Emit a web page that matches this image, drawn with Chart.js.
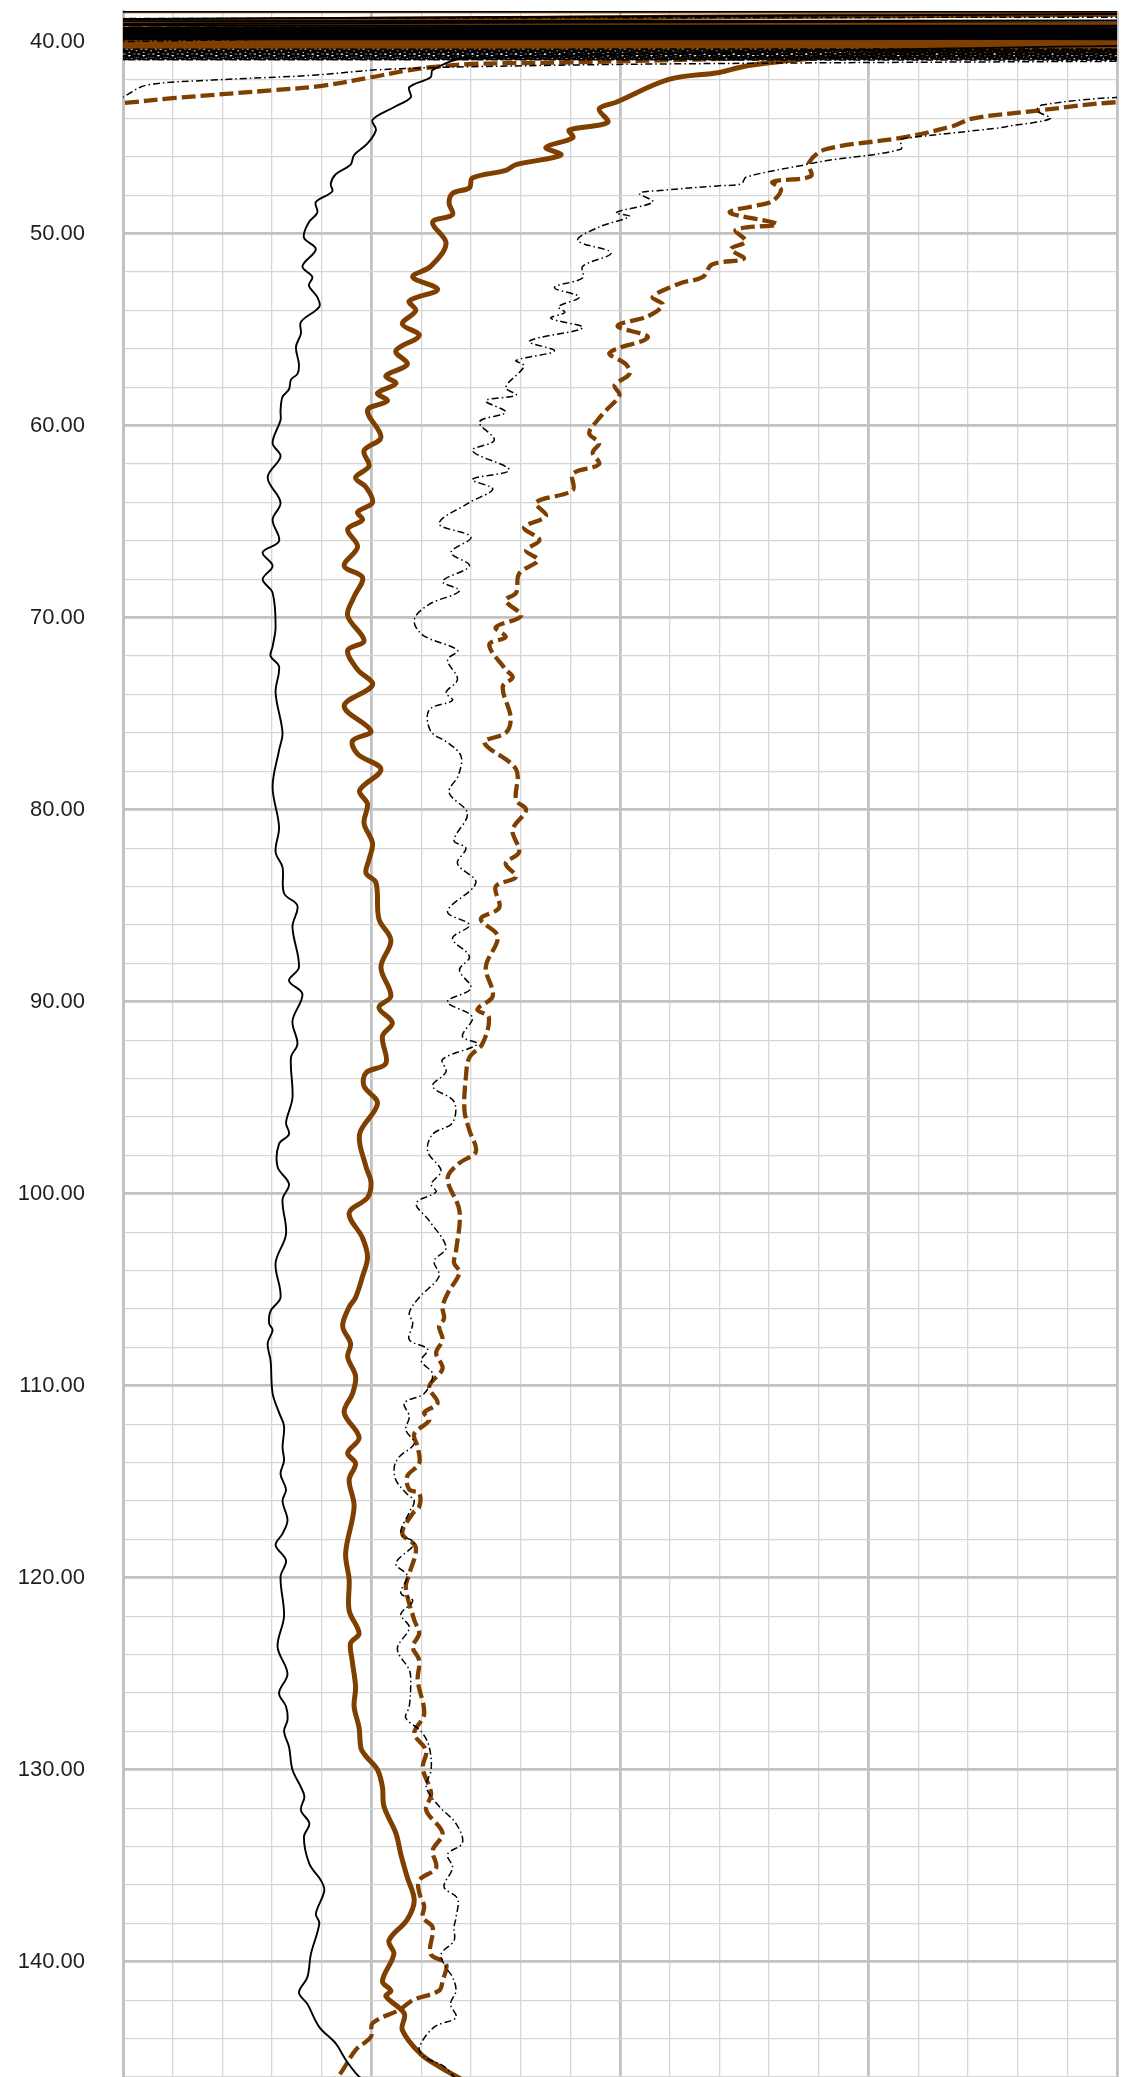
<!DOCTYPE html>
<html><head><meta charset="utf-8">
<script src="https://cdn.jsdelivr.net/npm/chart.js@4.4.1/dist/chart.umd.min.js"></script>
<style>html,body{margin:0;padding:0;background:#fff;overflow:hidden}#wrap{position:relative;width:1134px;height:2077px}</style>
</head><body><div id="wrap"><canvas id="c"></canvas></div>
<script>
// ---- axis definitions ----
const depthMin = 38.4, depthMax = 146.0;
const valueMin = 0, valueMax = 200;
const depthLabels = ['40.00','50.00','60.00','70.00','80.00','90.00','100.00','110.00','120.00','130.00','140.00'];

// ---- series 1: black solid ----
const blackSolidDepth = [
 38.42,38.44,38.93,38.88,39.12,39.18,
 39.28,39.305,39.33,39.355,39.38,39.405,39.43,39.455,39.48,39.505,
 39.53,39.555,39.58,39.605,39.63,39.655,39.68,39.705,39.73,39.755,
 39.78,39.805,39.83,39.855,39.88,39.905,
 40.86,41.47,41.85,42.37,42.9,43.4,44.07,44.6,45.3,45.9,
 46.4,46.9,47.4,47.8,48.35,48.9,49.4,50.2,50.8,51.7,
 52.25,52.7,53.3,53.8,54.6,55.2,55.9,56.8,57.3,57.6,
 58.1,58.5,59.2,59.7,60.9,61.6,62.7,64.0,64.9,66.0,
 66.6,67.3,68.0,68.7,70.5,71.5,72.0,72.55,73.9,76.0,
 76.9,78.8,80.9,82.2,83.0,84.35,85.0,86.1,88.2,88.9,
 89.6,91.0,92.2,92.9,95.0,96.3,96.9,97.4,98.6,99.5,
 100.3,102.1,103.6,105.4,106.1,106.75,107.1,107.8,108.7,110.4,
 111.4,112.1,113.2,113.9,114.6,115.4,116.0,117.0,117.7,118.3,
 119.1,119.95,122.0,123.6,125.0,126.0,126.7,127.4,128.0,128.8,
 130.0,130.9,131.4,132.1,132.8,133.5,134.9,135.75,136.3,137.5,
 138.0,139.6,140.8,141.6,142.2,143.4,144.25,145.1,145.9,146.5
];
const blackSolidValue = [
 -60,260,-60,260,-60,260,
 -60,260,-60,260,-60,260,-60,260,-60,260,
 -60,260,-60,260,-60,260,-60,260,-60,260,
 -60,260,-60,260,-60,260,
 69.0,62.3,61.9,57.6,57.9,54.6,50.2,50.9,49.2,46.5,
 45.8,42.8,41.8,42.1,38.8,39.1,37.4,36.4,38.8,36.1,
 38.1,37.4,39.1,39.5,35.8,35.8,34.8,35.4,35.1,33.8,
 33.4,32.1,31.7,31.7,30.1,31.7,29.1,31.7,30.1,31.4,
 28.1,30.1,28.1,30.1,30.7,30.1,29.7,31.4,30.7,32.1,
 31.4,30.1,31.4,30.7,32.1,32.4,35.1,34.1,35.4,33.4,
 36.1,34.1,35.1,33.8,34.1,32.8,33.4,31.4,31.1,33.4,
 32.1,32.8,30.7,31.7,29.7,29.4,30.1,29.1,29.7,30.1,
 31.4,32.4,32.1,32.4,31.7,32.8,32.1,33.1,32.1,30.7,
 32.8,31.7,32.4,31.1,33.1,31.4,32.8,33.1,32.4,33.4,
 34.1,35.8,36.5,35.8,37.5,36.4,37.5,39.8,40.5,38.8,
 39.5,37.8,37.1,35.4,37.1,39.5,42.8,44.8,47.2,50
];

// ---- series 2: brown solid ----
const brownSolidDepth = [
 38.40,38.42,39.08,39.11,
 39.92,39.95,39.98,40.01,40.04,40.07,40.10,40.13,40.16,40.19,
 40.22,40.25,40.28,40.31,
 40.44,40.8,41.1,41.3,41.6,41.95,43.15,43.5,44.2,44.6,
 45.0,45.5,45.9,46.4,46.7,47.1,47.6,47.9,48.4,49.0,
 49.4,50.5,51.7,52.25,52.9,53.5,54.0,54.7,55.3,56.1,
 56.8,57.4,57.8,58.3,58.7,59.2,60.6,61.3,62.1,62.7,
 63.2,64.0,64.5,64.9,65.4,66.3,67.3,67.9,68.9,69.9,
 71.2,71.7,72.7,73.5,74.6,75.9,76.4,77.1,77.9,79.0,
 79.7,80.7,81.75,82.6,83.3,83.8,85.7,86.8,88.2,89.7,
 90.3,91.1,91.8,93.2,93.7,94.4,95.3,96.9,98.6,99.4,
 100.2,101.0,102.3,103.3,104.3,105.4,105.9,106.9,107.8,108.5,
 109.5,110.4,111.4,112.7,113.5,114.05,114.9,116.3,118.7,120.1,
 121.7,122.9,123.4,124.3,125.7,126.7,127.8,128.9,129.3,130.0,
 130.9,131.9,133.3,134.4,135.6,136.8,137.8,138.9,139.6,141.0,
 141.5,141.8,142.7,143.55,144.8,145.5,145.9,146.4
];
const brownSolidValue = [
 -60,260,-60,260,
 -60,260,-60,260,-60,260,-60,260,-60,260,
 -60,260,-60,260,
 166,141.4,130,124.7,120,110,99.2,95.8,97.5,89.8,
 90.5,85.1,88.1,79.1,77.0,70.3,69.7,66.3,65.6,66.3,
 62.3,65.0,61.9,58.3,63.3,57.6,58.9,56.2,59.6,54.9,
 57.2,52.9,54.9,51.2,53.2,49.2,51.9,48.5,49.5,46.8,
 48.9,50.2,47.2,48.2,45.2,47.2,44.5,48.2,46.5,45.2,
 48.5,45.2,47.2,50.2,44.5,49.9,46.2,47.2,51.9,47.6,
 49.2,48.5,50.2,49.5,48.9,50.9,51.5,53.9,51.9,53.9,
 51.5,54.2,52.2,52.9,48.9,48.5,51.2,47.6,48.9,49.9,
 49.2,45.5,48.2,49.2,48.2,46.8,45.5,44.2,45.8,45.2,
 46.8,46.2,44.5,47.5,45.2,46.8,45.5,46.5,44.8,45.5,
 45.5,47.5,45.8,46.1,46.8,46.5,47.5,47.9,48.9,51.2,
 52.2,52.5,54.9,55.9,57.2,58.6,57.2,53.5,54.5,52.2,
 53.9,52.9,56.6,56.2,59.9,63.9,66.6,70
];

// ---- series 3: black dash-dot ----
const blackDashDotDepth = [
 38.80,38.86,
 40.34,40.37,40.40,40.43,40.46,40.49,40.52,40.55,40.58,40.61,
 40.64,40.67,40.70,40.73,40.76,40.79,40.82,40.85,40.88,40.91,
 40.94,40.96,
 41.02,41.15,41.3,41.45,41.75,42.0,42.27,42.87,43.3,null,
 42.85,42.9,43.3,43.6,44.0,44.4,44.5,45.0,45.1,45.6,
 46.2,46.4,47.05,47.4,47.5,47.75,47.9,48.35,48.9,49.1,
 49.65,50.35,51.0,51.7,52.3,52.8,53.3,53.8,54.1,54.4,
 54.9,55.6,56.1,56.6,56.9,58.0,58.4,58.7,59.3,59.8,
 60.75,61.3,62.3,62.8,63.3,64.0,65.1,65.8,66.6,67.3,
 68.1,68.6,69.3,70.1,70.9,71.7,72.2,73.2,73.9,74.3,
 74.8,75.9,76.5,77.2,78.2,79.1,80.2,81.6,82.0,82.8,
 83.8,85.3,86.0,86.7,87.65,88.35,89.3,90.0,90.8,91.8,
 92.2,93.0,93.65,94.4,95.2,96.3,96.9,97.8,98.8,99.5,
 99.9,100.5,101.4,102.8,103.5,104.3,105.4,106.2,106.75,107.6,
 108.1,108.7,109.4,110.4,110.9,111.6,112.3,113.0,113.7,114.2,
 114.9,115.6,116.0,116.6,117.7,118.2,119.25,119.9,120.8,121.2,
 121.9,122.6,123.7,124.8,125.35,126.7,127.3,128.0,128.8,130.0,
 130.9,131.9,132.8,133.8,134.4,135.1,136.1,136.7,137.7,138.2,
 138.9,139.6,140.3,140.8,141.5,142.2,142.9,143.4,144.5,145.0,
 145.4,145.9,146.4
];
const blackDashDotValue = [
 -60,260,
 -60,260,-60,260,-60,260,-60,260,-60,260,
 -60,260,-60,260,-60,260,-60,260,-60,260,
 -60,260,
 200,112,70,52,38,18,4.6,0,-5,null,
 215,199.8,184.9,183.9,186.6,178.2,175.9,158.2,156.5,156.5,
 141.4,137.4,125.4,124.4,120,108,103.9,106.6,99.2,101.9,
 95.8,91.5,98.2,92.5,92.5,86.8,91.8,87.6,88.9,86.1,
 92.5,81.7,86.8,79.1,80.7,77.0,79.1,73.0,77.0,71.7,
 74.7,70.3,77.7,70.3,74.4,69.7,63.6,70.0,66.0,69.7,
 64.3,67.7,61.6,58.6,60.3,67.3,65.3,67.3,65.0,66.3,
 61.6,61.9,65.3,68.0,67.5,65.6,69.3,66.6,69.0,67.3,
 71.0,65.3,69.7,66.3,69.7,67.7,70.0,65.3,70.3,68.3,
 71.3,64.3,65.0,62.3,66.6,66.3,62.3,61.3,64.0,62.0,
 63.0,59.0,61.6,65.0,62.6,63.6,59.6,57.6,58.3,57.6,
 61.3,60.0,62.3,60.6,56.6,57.6,56.9,58.6,55.6,54.6,
 54.9,57.0,58.6,57.6,55.9,58.6,54.9,57.2,55.9,58.3,
 55.9,57.6,55.2,57.6,57.9,57.6,56.9,60.0,61.6,62.0,
 61.0,63.6,67.0,68.3,65.3,66.3,64.6,67.3,67.0,66.6,
 66.6,64.0,65.0,66.3,67.0,65.9,67.0,62.6,59.6,60.9,
 64.3,66.3,68
];

// ---- series 4: brown dashed ----
const brownDashedDepth = [
 39.20,39.24,
 39.94,39.99,40.04,40.09,40.14,40.19,40.24,40.29,
 40.75,40.86,41.08,41.16,41.33,41.5,41.85,42.3,42.53,42.94,
 43.2,43.45,null,
 43.1,43.15,43.6,44.0,44.4,45.0,45.6,46.3,47.0,47.3,
 47.7,48.3,48.5,48.9,49.5,49.8,50.4,50.8,51.3,51.6,
 52.25,52.6,53.3,53.7,54.3,54.8,55.4,56.2,56.8,57.3,
 57.9,58.4,59.2,59.7,60.4,60.9,61.4,62.0,62.5,63.35,
 64.0,64.7,65.3,65.95,66.5,67.0,67.7,68.7,69.1,69.9,
 70.5,71.0,71.4,72.7,73.1,73.6,75.2,76.0,76.5,77.9,
 79.5,80.0,81.05,82.2,82.8,83.5,84.0,85.1,85.7,86.6,
 88.2,89.7,90.4,90.8,92.2,92.9,93.9,95.65,96.7,97.8,
 98.4,99.2,100.9,103.0,103.6,104.1,105.2,105.9,106.5,106.9,
 107.6,108.3,109.1,110.05,110.9,111.4,111.8,112.5,113.2,114.05,
 114.7,115.4,115.6,116.3,116.65,117.7,118.4,119.8,120.5,122.2,
 122.9,123.6,124.3,125.35,127.1,128.1,129.0,129.9,131.25,132.1,
 133.3,134.2,135.1,135.75,136.4,137.1,137.7,138.2,139.6,140.1,
 141.0,141.5,142.0,142.5,143.2,143.9,144.6,145.9,146.5
];
const brownDashedValue = [
 -60,260,
 -60,260,-60,260,-60,260,-60,260,
 150,127,89,70,62,57,50,40,30,10,
 0,-10,null,
 215,199.8,183.6,170.9,166.9,156.8,141.4,138.0,138.4,130.7,
 132.4,130.7,128.1,122.1,131.6,123.3,125.3,122.3,124.9,118.5,
 116.7,111.9,106.6,108.6,105.6,99.5,105.6,97.9,101.2,101.9,
 98.9,99.9,97.2,95.5,93.8,95.8,94.5,95.8,90.5,90.5,
 83.1,85.1,80.7,83.8,81.1,83.5,79.7,79.1,77.0,80.1,
 75.0,77.0,73.7,77.0,78.4,76.4,78.0,77.0,72.7,79.1,
 79.1,81.1,78.4,79.7,77.0,79.1,75.0,75.7,72.0,75.4,
 73.0,74.4,71.3,73.6,72.3,69.7,69.0,68.7,69.7,71.0,
 67.7,65.3,67.7,67.0,66.6,67.7,65.3,64.3,64.6,63.6,
 64.3,63.0,64.3,61.6,63.3,60.6,61.6,58.6,59.3,59.6,
 57.2,57.6,59.6,59.6,58.3,56.2,58.9,57.6,56.9,58.6,
 59.6,58.3,59.6,59.3,60.6,58.6,61.0,60.3,62.0,61.0,
 64.3,62.3,63.0,59.6,59.6,60.6,60.3,62.3,61.9,65.0,
 64.3,63.6,58.3,55.6,50.2,49.9,46.8,43.5,41
];

// ---- build ----
function toPoints(depths, values) {
  const n = Math.min(depths.length, values.length);
  const pts = [];
  for (let i = 0; i < n; i++) pts.push({x: values[i], y: depths[i]});
  return pts;
}
const depthTicks = [];
for (let d = 40; d <= 146; d += 2) depthTicks.push(d);
const valueTicks = [];
for (let v = valueMin; v <= valueMax; v += 10) valueTicks.push(v);

const brown = '#7f3f00';
new Chart(document.getElementById('c'), {
  type: 'line',
  data: {
    datasets: [
      {data: toPoints(blackDashDotDepth, blackDashDotValue), borderColor: '#000', borderWidth: 1.5, borderDash: [7, 3, 1.5, 3]},
      {data: toPoints(blackSolidDepth, blackSolidValue), borderColor: '#000', borderWidth: 1.9},
      {data: toPoints(brownSolidDepth, brownSolidValue), borderColor: brown, borderWidth: 5},
      {data: toPoints(brownDashedDepth, brownDashedValue), borderColor: brown, borderWidth: 4.3, borderDash: [14, 5]}
    ]
  },
  options: {
    responsive: true, maintainAspectRatio: false, animation: false,
    spanGaps: false,
    layout: {padding: {top: 11, right: 17, left: 0, bottom: 0}},
    plugins: {legend: {display: false}, tooltip: {enabled: false}},
    elements: {point: {radius: 0, hoverRadius: 0}, line: {tension: 0.35, fill: false, borderJoinStyle: 'round', borderCapStyle: 'butt'}},
    scales: {
      x: {
        type: 'linear', position: 'bottom', min: valueMin, max: valueMax,
        afterBuildTicks: s => { s.ticks = valueTicks.map(v => ({value: v})); },
        afterFit: s => { s.height = 0; s.paddingLeft = 0; s.paddingRight = 0; },
        ticks: {display: false},
        grid: {drawTicks: false,
          color: c => (c.tick && c.tick.value % 50 === 0) ? '#c2c2c2' : '#d6d6d6',
          lineWidth: c => (c.tick && c.tick.value % 50 === 0) ? 2.8 : 1.3},
        border: {display: false}
      },
      y: {
        type: 'linear', reverse: true, min: depthMin, max: depthMax,
        afterBuildTicks: s => { s.ticks = depthTicks.map(v => ({value: v})); },
        afterFit: s => { s.width = 123; s.paddingTop = 0; s.paddingBottom = 0; },
        ticks: {autoSkip: false, padding: 38, color: '#1e1e1e',
          font: {family: '"Liberation Sans", Arial, sans-serif', size: 22},
          callback: v => (v % 10 === 0 ? depthLabels[(v - 40) / 10] : '')},
        grid: {drawTicks: false,
          color: c => (c.tick && c.tick.value % 10 === 0) ? '#c2c2c2' : '#d6d6d6',
          lineWidth: c => (c.tick && c.tick.value % 10 === 0) ? 2.8 : 1.3},
        border: {display: true, color: '#c2c2c2', width: 3}
      }
    }
  }
});
</script>
</body></html>
